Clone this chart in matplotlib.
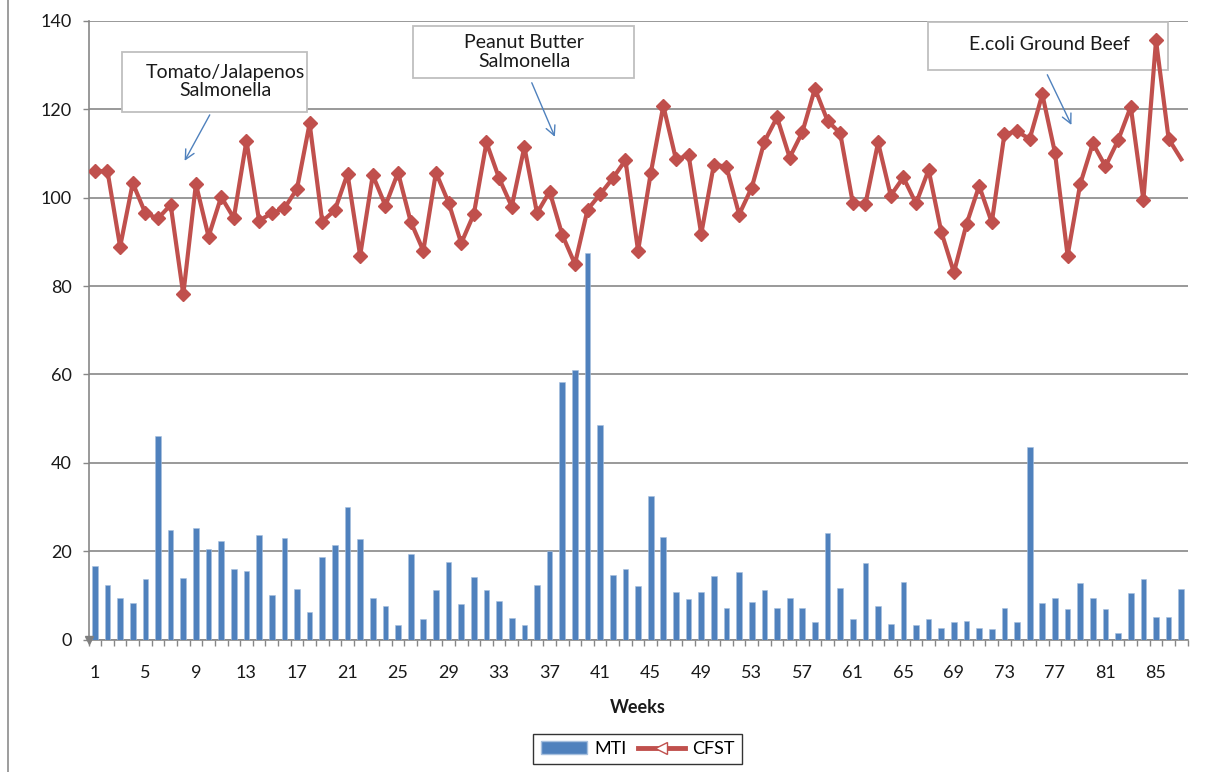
import numpy as np
import matplotlib.pyplot as plt
from matplotlib.lines import Line2D
from matplotlib.patches import Patch, Rectangle

plt.rcParams['font.family'] = ['Lato', 'DejaVu Sans']

# weekly data
weeks = np.arange(1, 88)
mti = [16.6, 12.4, 9.4, 8.2, 13.7, 46.0, 24.9, 14.0, 25.3, 20.5,
       22.4, 15.9, 15.6, 23.6, 10.1, 23.0, 11.4, 6.3, 18.6, 21.4,
       30.1, 22.7, 9.4, 7.5, 3.3, 19.4, 4.6, 11.1, 17.6, 8.1,
       14.2, 11.1, 8.7, 4.9, 3.3, 12.3, 20.0, 58.3, 60.9, 87.4,
       48.6, 14.6, 15.9, 12.1, 32.4, 23.3, 10.8, 9.1, 10.8, 14.3,
       7.2, 15.3, 8.5, 11.1, 7.2, 9.5, 7.2, 4.0, 24.1, 11.7,
       4.6, 17.3, 7.5, 3.6, 13.0, 3.3, 4.6, 2.7, 4.0, 4.3,
       2.7, 2.4, 7.2, 4.0, 43.5, 8.2, 9.5, 6.9, 12.7, 9.5,
       6.9, 1.5, 10.5, 13.7, 5.0, 5.0, 11.4]
cfst = [106.0, 106.0, 88.9, 103.3, 96.5, 95.3, 98.4, 78.1, 103.1, 91.2,
        100.2, 95.4, 112.9, 94.8, 96.5, 97.6, 102.0, 116.8, 94.6, 97.2,
        105.4, 86.9, 105.1, 98.2, 105.7, 94.6, 88.0, 105.7, 98.9, 89.7,
        96.3, 112.5, 104.4, 98.0, 111.5, 96.5, 101.4, 91.6, 85.0, 97.3,
        100.8, 104.4, 108.5, 88.0, 105.5, 120.8, 108.7, 109.6, 91.8, 107.5,
        107.0, 96.2, 102.3, 112.7, 118.2, 109.1, 114.8, 124.7, 117.4, 114.6,
        98.8, 98.6, 112.5, 100.5, 104.6, 98.7, 106.3, 92.3, 83.1, 94.0,
        102.7, 94.4, 114.4, 115.0, 113.3, 123.4, 110.2, 86.9, 103.1, 112.3,
        107.1, 113.0, 120.6, 99.5, 135.6, 113.3, 108.7]
yticks = np.arange(0, 141, 20)
xlabels = weeks[::4]

BLUE = '#4F81BD'
RED = '#C0504D'
GRID = '#878787'
TXT = '#1a1a1a'

fig = plt.figure(figsize=(12.28, 7.72), dpi=100)
ax = fig.add_axes([0.0721, 0.1716, 0.895, 0.8012])

ax.bar(weeks, mti, width=0.45, color=BLUE, edgecolor='#A7C0DE', linewidth=0.4, zorder=3)
ax.plot(weeks, cfst, color=RED, lw=3.0, marker='D', ms=7.5, mfc=RED, mec=RED,
        markevery=list(range(len(weeks) - 1)), zorder=4)

ax.set_xlim(0.5, 87.5)
ax.set_ylim(0, 140)
ax.set_yticks(yticks)
ax.set_xticks(xlabels)
ax.set_xticks(np.arange(0.5, 88, 1), minor=True)
ax.tick_params(axis='x', which='major', length=0, pad=18, labelsize=13, colors=TXT)
ax.tick_params(axis='x', which='minor', length=4, width=1, color=GRID, direction='out')
ax.tick_params(axis='y', length=4, width=1, color=GRID, pad=8, labelsize=13, labelcolor=TXT)

ax.yaxis.grid(True, color=GRID, lw=1.2, zorder=0)
ax.set_axisbelow(True)
for s in ['top', 'right']:
    ax.spines[s].set_visible(False)
for s in ['left', 'bottom']:
    ax.spines[s].set_color(GRID)
    ax.spines[s].set_linewidth(1.2)

ax.plot(0, 0, transform=ax.transAxes, marker='v', color='#7F7F7F', ms=6, clip_on=False, zorder=6)

ax.set_xlabel('Weeks', fontsize=13, fontweight='bold', labelpad=13, color=TXT)

# annotation boxes
notes = [
    ('Tomato/Jalapenos\nSalmonella', (3.18, 119.3, 14.58, 13.6), (11.3, 126.3), (10.2, 119.3), (8.0, 107.8)),
    ('Peanut Butter\nSalmonella', (26.15, 127.0, 17.5, 11.8), (35.0, 133.0), (35.5, 126.6), (37.5, 113.2)),
    ('E.coli Ground Beef', (66.96, 128.8, 19.0, 10.9), (76.6, 134.6), (76.3, 128.4), (78.4, 115.9)),
]
for txt, (x0, y0, w, h), tc, start, tip in notes:
    ax.add_patch(Rectangle((x0, y0), w, h, facecolor='white', edgecolor='#BFBFBF',
                           lw=1.3, clip_on=False, zorder=3.5))
    ax.text(tc[0], tc[1], txt, ha='center', va='center', fontsize=14,
            color=TXT, linespacing=1.1, zorder=3.6)
    ax.annotate('', xy=tip, xytext=start,
                arrowprops=dict(arrowstyle='->', color=BLUE, lw=1, mutation_scale=17), zorder=3.6)

handles = [Patch(facecolor=BLUE, edgecolor='#A7C0DE'),
           Line2D([0], [0], color=RED, lw=3.5, marker='<', ms=8, mfc='white', mec=RED)]
leg = fig.legend(handles, ['MTI', 'CFST'], loc='center', ncol=2,
                 bbox_to_anchor=(637.5 / 1228, 1 - 749 / 772), frameon=True,
                 fancybox=False, edgecolor='black', fontsize=13,
                 handlelength=2.6, columnspacing=0.6, handletextpad=0.4,
                 borderpad=0.4)
leg.get_frame().set_linewidth(1.0)

fig.add_artist(Line2D([8 / 1228, 8 / 1228], [0, 1], color='#8C8C8C', lw=1.2,
                      transform=fig.transFigure))

fig.savefig('out.png', dpi=100)
